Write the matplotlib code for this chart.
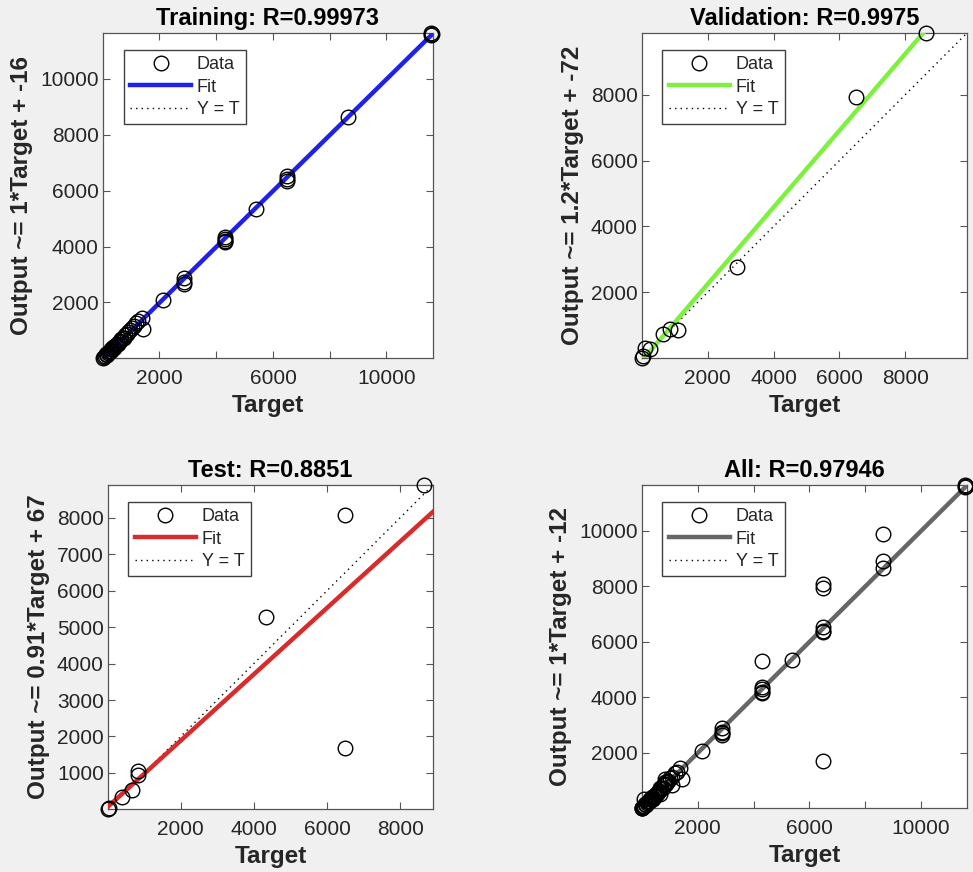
import numpy as np
import matplotlib
matplotlib.use("Agg")
import matplotlib.pyplot as plt

# ---------------- data ----------------
train_target = [15, 40, 80, 120, 150, 180, 220, 250, 280, 310, 340, 370, 400, 430,
                470, 500, 540, 580, 620, 660, 700, 750, 800, 850, 900, 950, 1020,
                1100, 1180, 1250, 1370, 1430,
                2140, 2860, 2860, 2860, 4320, 4320, 4320, 4320, 5390,
                6490, 6490, 6490, 8640, 11560, 11580, 11600]
train_output = [12, 60, 70, 140, 130, 200, 210, 270, 260, 330, 320, 390, 380, 450,
                460, 520, 530, 600, 610, 680, 720, 740, 830, 860, 930, 1000, 1080,
                1140, 1260, 1320, 1440, 1050,
                2070, 2880, 2720, 2650, 4350, 4280, 4200, 4150, 5340,
                6520, 6400, 6330, 8640, 11640, 11560, 11600]

val_target = [15, 40, 90, 260, 660, 870, 1100, 2890, 6500, 8640]
val_output = [10, 60, 320, 280, 740, 890, 850, 2760, 7920, 9870]

test_target = [15, 30, 400, 670, 820, 830, 4320, 6490, 6490, 8650]
test_output = [10, 40, 340, 520, 950, 1060, 5290, 1690, 8070, 8900]

# fit coefficients (slope, intercept)
train_fit = (1.0, -16)
val_fit = (1.165, -80)
test_fit = (0.91, 67)
all_fit = (1.0, -12)

titles = ["Training: R=0.99973", "Validation: R=0.9975", "Test: R=0.8851", "All: R=0.97946"]
ylabels = ["Output ~= 1*Target + -16", "Output ~= 1.2*Target + -72",
           "Output ~= 0.91*Target + 67", "Output ~= 1*Target + -12"]
fit_colors = ["#2020ee", "#7ef040", "#d92b2b", "#666666"]

train_xticks = [2000, 4000, 6000, 8000, 10000]
train_xticklabels = ["2000", "", "6000", "", "10000"]
train_yticks = [2000, 4000, 6000, 8000, 10000]
val_ticks = [2000, 4000, 6000, 8000]
test_xticks = [2000, 4000, 6000, 8000]
test_yticks = [1000, 2000, 3000, 4000, 5000, 6000, 7000, 8000]

all_target = train_target + val_target + test_target
all_output = train_output + val_output + test_output

# ---------------- figure ----------------
plt.rcParams['font.family'] = ['Liberation Sans', 'DejaVu Sans']
fig = plt.figure(figsize=(9.73, 8.72), dpi=100, facecolor="#f0f0f0")

W, H = 973, 872
boxes = [(103, 33, 433, 358), (642, 33, 967, 358), (108, 485, 433, 809), (642, 485, 967, 808)]

datasets = [
    (train_target, train_output, train_fit, train_xticks, train_xticklabels, train_yticks, [str(v) for v in train_yticks]),
    (val_target, val_output, val_fit, val_ticks, [str(v) for v in val_ticks], val_ticks, [str(v) for v in val_ticks]),
    (test_target, test_output, test_fit, test_xticks, [str(v) for v in test_xticks], test_yticks, [str(v) for v in test_yticks]),
    (all_target, all_output, all_fit, train_xticks, train_xticklabels, train_yticks, [str(v) for v in train_yticks]),
]

txtc = "#262626"
for i, (t, y, fit, xt, xtl, yt, ytl) in enumerate(datasets):
    l, tp, r, b = boxes[i]
    ax = fig.add_axes([l / W, 1 - b / H, (r - l) / W, (b - tp) / H])
    t = np.asarray(t, float)
    y = np.asarray(y, float)
    lo = min(t.min(), y.min())
    hi = max(t.max(), y.max())
    xs = np.array([lo, hi])
    ax.plot(xs, xs, linestyle=(0, (1, 3)), color="k", lw=1.0, zorder=2, label="Y = T")
    ax.plot(xs, fit[0] * xs + fit[1], color=fit_colors[i], lw=3.2, zorder=3, label="Fit")
    ax.plot(t, y, linestyle="none", marker="o", ms=10.5, mfc="none", mec="k", mew=1.0,
            zorder=4, label="Data", clip_on=False)
    ax.set_xlim(lo, hi)
    ax.set_ylim(lo, hi)
    ax.set_xticks(xt)
    ax.set_xticklabels(xtl)
    ax.set_yticks(yt)
    ax.set_yticklabels(ytl)
    ax.tick_params(direction="in", top=True, right=True, length=5, width=0.8,
                   colors="#555555", labelcolor=txtc, labelsize=15)
    ax.tick_params(axis="x", pad=8)
    ax.tick_params(axis="y", pad=3)
    for s in ax.spines.values():
        s.set_color("#555555")
        s.set_linewidth(0.9)
    ax.set_title(titles[i], fontsize=17, fontweight="bold", color="k", pad=6)
    ax.set_xlabel("Target", fontsize=17.5, fontweight="bold", color=txtc, labelpad=4)
    ax.set_ylabel(ylabels[i], fontsize=17.5, fontweight="bold", color=txtc, labelpad=5)
    h, lab = ax.get_legend_handles_labels()
    order = [2, 1, 0]
    leg = ax.legend([h[k] for k in order], [lab[k] for k in order], loc="upper left",
                    bbox_to_anchor=(0.063, 0.948), fontsize=13, frameon=True,
                    fancybox=False, framealpha=1, edgecolor="#404040",
                    handlelength=3.4, handletextpad=0.3, labelspacing=0.3,
                    borderpad=0.35, borderaxespad=0)
    leg.get_frame().set_linewidth(1.0)
    for tx in leg.get_texts():
        tx.set_color(txtc)
    ax.set_facecolor("white")

fig.savefig("out.png", dpi=100, facecolor=fig.get_facecolor())
